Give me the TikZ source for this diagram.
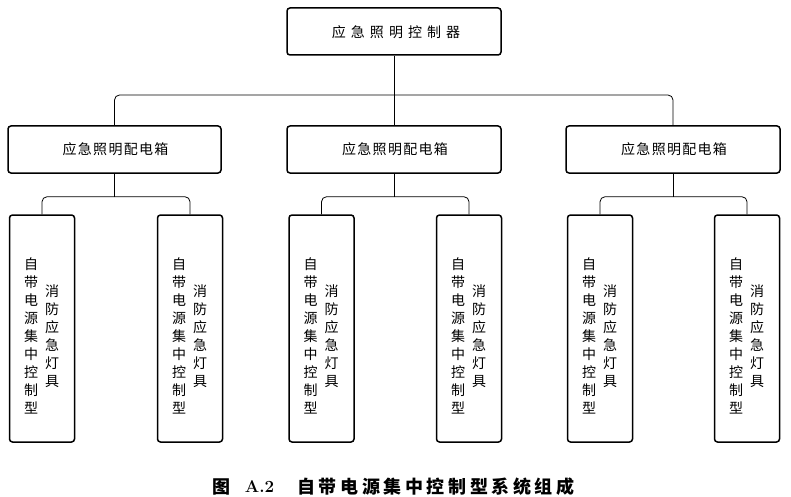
\documentclass[tikz,border=0pt]{standalone}
\usepackage{fontspec}
\newfontfamily\cjk{Noto Sans CJK SC}
\newfontfamily\cjktop[LetterSpace=36]{Noto Sans CJK SC}
\newfontfamily\cjkmid[LetterSpace=9]{Noto Sans CJK SC}
\newfontfamily\cjkcap[LetterSpace=20]{Noto Sans CJK SC}
\begin{document}
\begin{tikzpicture}[x=1pt,y=-1pt,
  box/.style={draw,line width=1.5pt,rounded corners=3pt,inner sep=0pt},
  conn/.style={line width=0.8pt,rounded corners=5pt},
  toptext/.style={font=\cjktop\fontsize{14}{16}\selectfont},
  midtext/.style={font=\cjkmid\fontsize{14}{16}\selectfont},
  vcol/.style={align=center,inner sep=0pt,font=\cjk\fontsize{14}{18}\selectfont}
]
\useasboundingbox (0,0) rectangle (791,497);
% top
\node[box,minimum width=214pt,minimum height=47pt] (top) at (394,31.5) {};
\node[toptext] (toptxt) at ([xshift=2pt,yshift=-1pt]top.center) {应急照明控制器};
% mid boxes
\node[box,minimum width=213pt,minimum height=47pt] (m1) at (114.5,149.5) {};
\node[box,minimum width=214pt,minimum height=47pt] (m2) at (394,149.5) {};
\node[box,minimum width=214pt,minimum height=47pt] (m3) at (673,149.5) {};
\node[midtext] (m1t) at ([xshift=1pt]m1.center) {应急照明配电箱};
\node[midtext] (m2t) at ([xshift=1pt]m2.center) {应急照明配电箱};
\node[midtext] (m3t) at ([xshift=1pt]m3.center) {应急照明配电箱};
% leaf boxes
\foreach \n/\x in {l1/42,l2/190,l3/321.5,l4/469,l5/600,l6/747}{
  \node[box,minimum width=65pt,minimum height=227pt] (\n) at (\x,328.5) {};
  \node[vcol] (\n a) at ([xshift=-11pt,yshift=-7.5pt]\n.center) {自\\带\\电\\源\\集\\中\\控\\制\\型};
  \node[vcol] (\n b) at ([xshift=10pt,yshift=-7.5pt]\n.center) {消\\防\\应\\急\\灯\\具};
}
% connectors
\coordinate (b0) at (394,95);
\draw[conn] (top.south) -- (m2.north);
\draw[conn] (m1.north) |- (b0) -| (m3.north);
\path (m1.south) ++(0,23) coordinate (b1);
\path (m2.south) ++(0,23) coordinate (b2);
\path (m3.south) ++(0,23) coordinate (b3);
\draw[conn] (m1.south) -- (b1);
\draw[conn] (m2.south) -- (b2);
\draw[conn] (m3.south) -- (b3);
\draw[conn] (l1.north) |- (b1) -| (l2.north);
\draw[conn] (l3.north) |- (b2) -| (l4.north);
\draw[conn] (l5.north) |- (b3) -| (l6.north);
% caption
\node[font=\cjk\bfseries\fontsize{18}{20}\selectfont,inner sep=0pt] (c1) at (221,486.5) {图};
\node[font=\bfseries\fontsize{17}{20}\selectfont,inner sep=0pt] (c2) at (259.5,486.5) {A.2};
\node[font=\cjkcap\bfseries\fontsize{18}{20}\selectfont,inner sep=0pt] (c3) at (436,486.5) {自带电源集中控制型系统组成};
\end{tikzpicture}
\end{document}
